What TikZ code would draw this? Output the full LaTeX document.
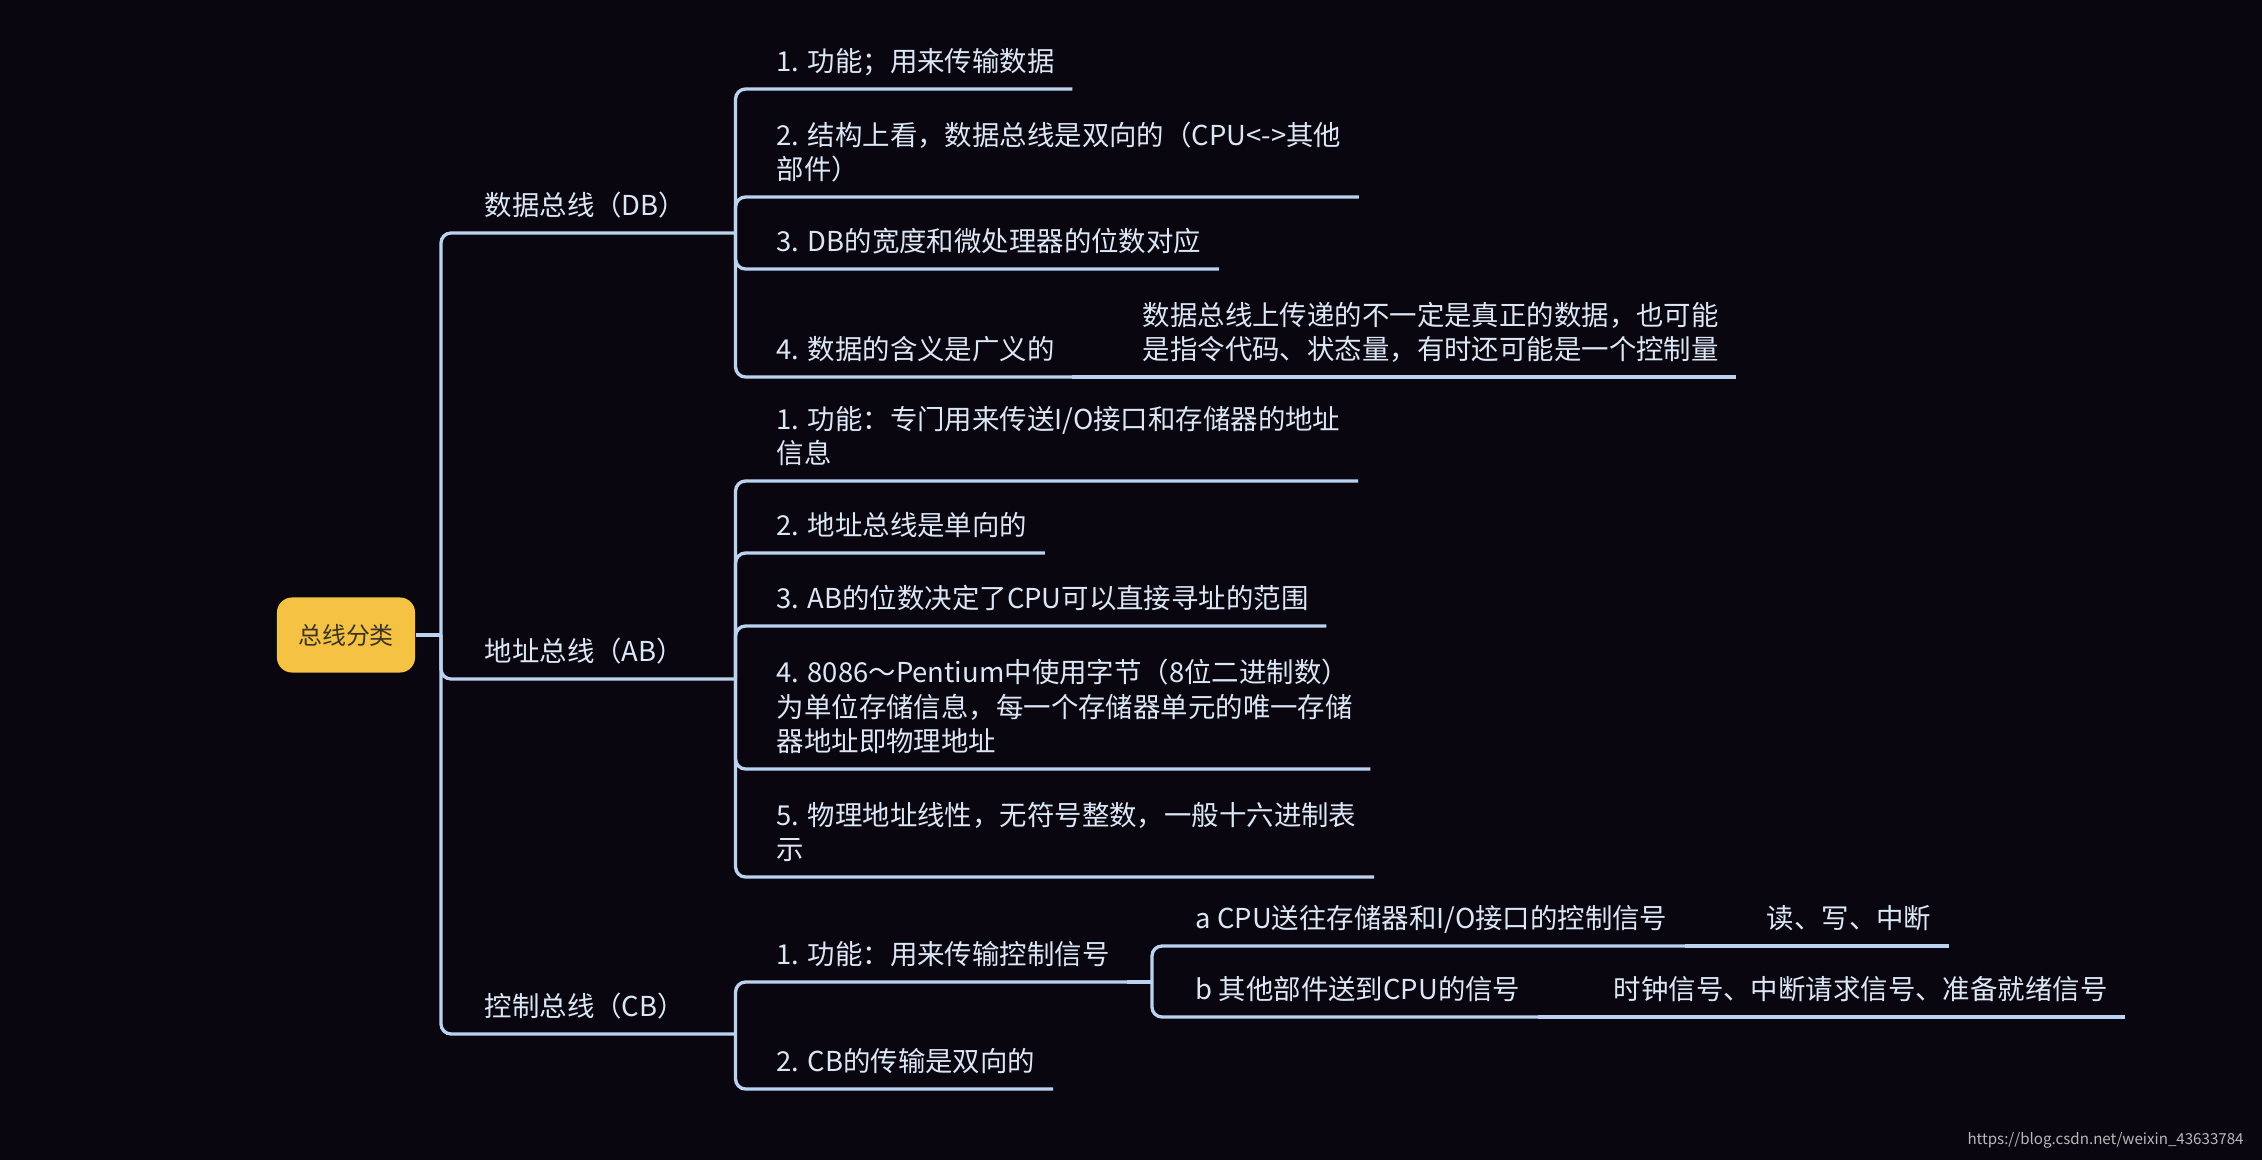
\documentclass[tikz,border=0pt]{standalone}
\usepackage{fontspec}
\setmainfont{Noto Sans CJK SC}
\usetikzlibrary{positioning}
\definecolor{bgdark}{HTML}{0A0610}
\definecolor{branchblue}{HTML}{BCD3F0}
\definecolor{topictext}{HTML}{DCE7F6}
\definecolor{rootyellow}{HTML}{F6C244}
\definecolor{roottext}{HTML}{3A3326}
\definecolor{marktext}{HTML}{B8B8B8}

\begin{document}
\begin{tikzpicture}
      [
        x=0.01cm, y=-0.01cm,
        branch/.style = {draw=branchblue, line width=0.033cm, rounded corners=0.1cm},
        topic/.style = {anchor=south west, align=left, text=topictext, inner xsep=0.17cm, inner ysep=0.165cm, text depth=0pt, font=\fontsize{7.8pt}{9.8pt}\selectfont},
        bus/.style = {topic, text width=2.33cm},
        rootbox/.style = {fill=rootyellow, rounded corners=0.15cm, minimum width=1.38cm, minimum height=0.75cm, text=roottext, font=\fontsize{6.8pt}{8pt}\selectfont}
      ]

      \fill[bgdark] (0,0) rectangle (2262,1160);
      \useasboundingbox (0,0) rectangle (2262,1160);

      \node[rootbox] (root) at (346,635) {总线分类};
      \coordinate (rootj) at (441,635);

      \node[bus] (db) at (467,233) {数据总线（DB）};
      \node[bus] (ab) at (467,679) {地址总线（AB）};
      \node[bus] (cb) at (467,1034) {控制总线（CB）};

      \node[topic] (db1) at (759,89) {1. 功能；用来传输数据};
      \node[topic] (db2) at (759,197) {2. 结构上看，数据总线是双向的（CPU<->其他\\部件）};
      \node[topic] (db3) at (759,269) {3. DB的宽度和微处理器的位数对应};
      \node[topic] (db4) at (759,377) {4. 数据的含义是广义的};
      \node[topic] (db4a) at (1125,377) {数据总线上传递的不一定是真正的数据，也可能\\是指令代码、状态量，有时还可能是一个控制量};

      \node[topic] (ab1) at (759,481) {1. 功能：专门用来传送I/O接口和存储器的地址\\信息};
      \node[topic] (ab2) at (759,553) {2. 地址总线是单向的};
      \node[topic] (ab3) at (759,626) {3. AB的位数决定了CPU可以直接寻址的范围};
      \node[topic] (ab4) at (759,769) {4. 8086～Pentium中使用字节（8位二进制数）\\为单位存储信息，每一个存储器单元的唯一存储\\器地址即物理地址};
      \node[topic] (ab5) at (759,877) {5. 物理地址线性，无符号整数，一般十六进制表\\示};

      \node[topic] (cb1) at (759,982) {1. 功能：用来传输控制信号};
      \coordinate (cb1j) at (1152,982);
      \node[topic] (cb2) at (759,1089) {2. CB的传输是双向的};
      \node[topic] (cb1a) at (1178,946) {a CPU送往存储器和I/O接口的控制信号};
      \node[topic] (cb1a1) at (1749,946) {读、写、中断};
      \node[topic] (cb1b) at (1178,1017) {b 其他部件送到CPU的信号};
      \node[topic] (cb1b1) at (1596,1017) {时钟信号、中断请求信号、准备就绪信号};

      \node[anchor=east, text=marktext, font=\fontsize{4.3pt}{5pt}\selectfont] (mark) at (2256,1140) {https://blog.csdn.net/weixin\_43633784};

      \draw[branch, line width=0.045cm] (root.east) -- (rootj);
      \foreach \b in {db,ab,cb}
        \draw[branch] (rootj) |- (\b.south east);

      \foreach \c in {db1,db2,db3,db4}
        \draw[branch] (db.south east) |- (\c.south east);
      \draw[branch] (db4.south east) -- (db4a.south east);

      \foreach \c in {ab1,ab2,ab3,ab4,ab5}
        \draw[branch] (ab.south east) |- (\c.south east);

      \foreach \c in {cb1,cb2}
        \draw[branch] (cb.south east) |- (\c.south east);
      \draw[branch] (cb1.south east) -- (cb1j);
      \foreach \c in {cb1a,cb1b}
        \draw[branch] (cb1j) |- (\c.south east);
      \draw[branch] (cb1a.south east) -- (cb1a1.south east);
      \draw[branch] (cb1b.south east) -- (cb1b1.south east);

    \end{tikzpicture}
\end{document}
